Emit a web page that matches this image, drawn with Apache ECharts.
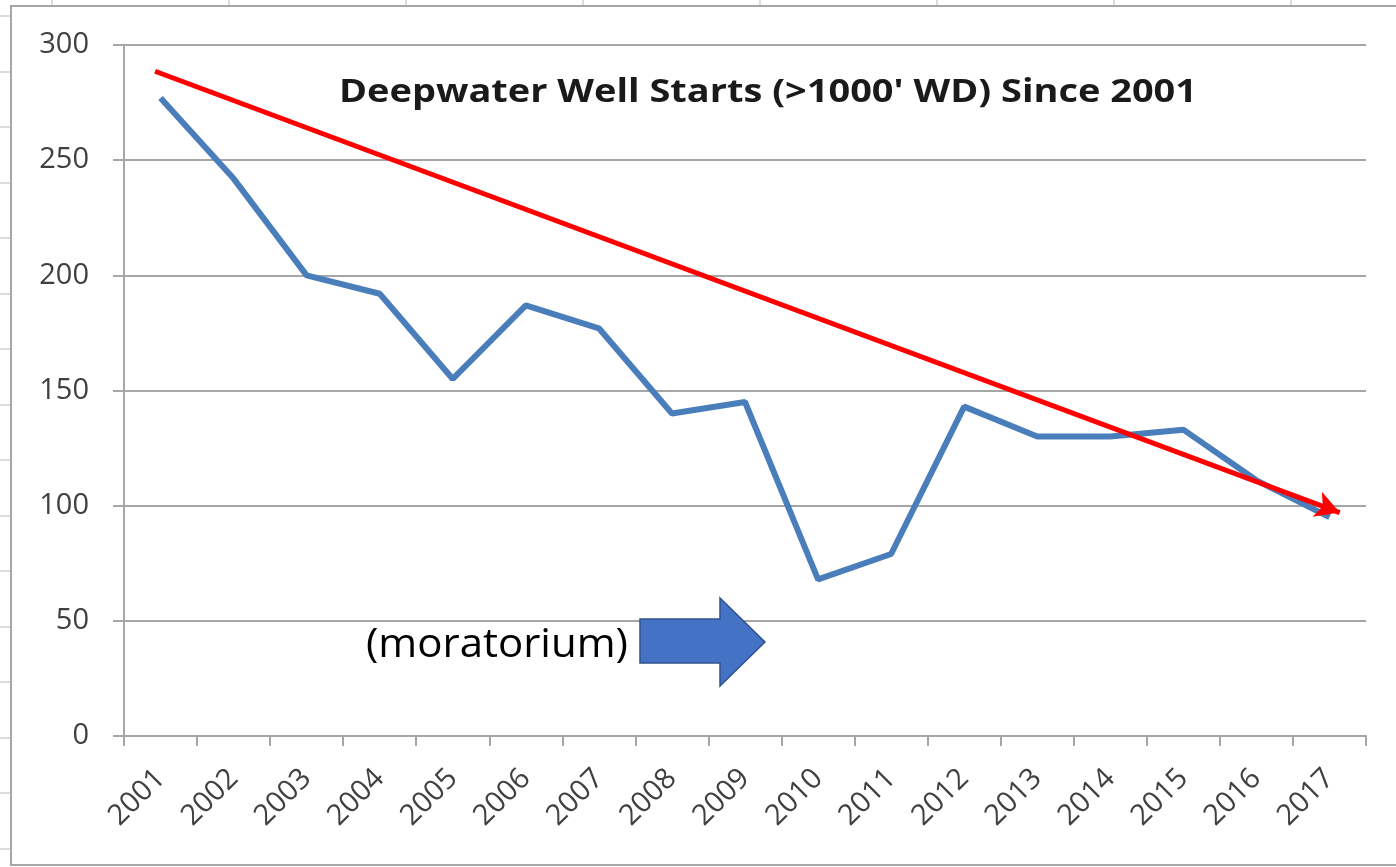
<!DOCTYPE html>
<html>
<head>
<meta charset="utf-8">
<script src="https://cdn.jsdelivr.net/npm/echarts@6/dist/echarts.min.js"></script>
<style>
html,body{margin:0;padding:0;background:#fff;}
#chart{width:1396px;height:867px;}
</style>
</head>
<body>
<div id="chart"></div>
<script>
const years = ['2001','2002','2003','2004','2005','2006','2007','2008','2009','2010','2011','2012','2013','2014','2015','2016','2017'];
const wellStarts = [277, 242, 200, 192, 155, 187, 177, 140, 145, 68, 79, 143, 130, 130, 133, 111, 95];
const yTicks = [0, 50, 100, 150, 200, 250, 300];
// trend arrow endpoints in data space (x as category index, y as well starts)
const trendX = [-0.075, 16.14];
const trendY = [288.6, 97];
const titleText = "Deepwater Well Starts (>1000' WD) Since 2001";
const noteText = '(moratorium)';

const chart = echarts.init(document.getElementById('chart'), null, {renderer: 'canvas'});

// spreadsheet background lines
const bgGraphics = [];
const colXs = [52, 229, 406, 583, 760, 937, 1114, 1291];
colXs.forEach(x => bgGraphics.push({type:'line', shape:{x1:x, y1:0, x2:x, y2:6}, style:{stroke:'#d0d0d0', lineWidth:1.5}, silent:true, z:-10}));
for (let y = 16; y < 867; y += 55.5) {
  bgGraphics.push({type:'line', shape:{x1:0, y1:Math.round(y), x2:10, y2:Math.round(y)}, style:{stroke:'#d0d0d0', lineWidth:1.5}, silent:true, z:-10});
}
bgGraphics.push({type:'rect', shape:{x:11, y:6, width:1400, height:859}, style:{fill:'#ffffff', stroke:'#a6a6a6', lineWidth:2}, silent:true, z:-9});

const option = {
  backgroundColor: '#ffffff',
  animation: false,
  textStyle: {fontFamily: 'Open Sans'},
  grid: {left: 124, right: 30, top: 45, bottom: 131},
  xAxis: [{
    type: 'category',
    data: years,
    boundaryGap: true,
    axisLine: {lineStyle: {color: '#a6a6a6', width: 2}},
    axisTick: {show: true, length: 10, lineStyle: {color: '#a6a6a6', width: 2}},
    axisLabel: {rotate: 45, fontSize: 29, color: '#404040', margin: 38, fontFamily: 'Open Sans'},
    splitLine: {show: false}
  }, {
    type: 'value',
    min: -0.5, max: 16.5,
    show: false
  }],
  yAxis: {
    type: 'value',
    min: 0, max: 300, interval: 50,
    axisLine: {show: true, onZero: false, lineStyle: {color: '#a6a6a6', width: 2}},
    axisTick: {show: true, length: 11, lineStyle: {color: '#a6a6a6', width: 2}},
    axisLabel: {fontSize: 29, color: '#404040', margin: 35, fontFamily: 'Open Sans'},
    splitLine: {show: true, lineStyle: {color: '#a6a6a6', width: 2}}
  },
  series: [{
    name: 'Well starts',
    type: 'line',
    data: wellStarts,
    symbol: 'none',
    lineStyle: {color: '#4a7ebb', width: 6},
    z: 3
  }, {
    name: 'Trend',
    type: 'line',
    xAxisIndex: 1,
    data: [[trendX[0], trendY[0]], [trendX[1], trendY[1]]],
    symbol: 'none',
    lineStyle: {opacity: 0},
    markLine: {
      silent: true,
      symbol: ['none', 'arrow'],
      symbolSize: [20, 24],
      label: {show: false},
      lineStyle: {color: '#ff0000', width: 5, type: 'solid'},
      data: [[{coord: [trendX[0], trendY[0]]}, {coord: [trendX[1], trendY[1]]}]]
    },
    z: 4
  }],
  graphic: bgGraphics.concat([
    {
      type: 'text',
      x: 768, y: 93, scaleX: 1.15,
      style: {text: titleText, fontFamily: 'Open Sans', fontWeight: 'bold', fontSize: 33, fill: '#1a1a1a', align: 'center', verticalAlign: 'middle'},
      z: 10
    },
    {
      type: 'polygon',
      shape: {points: [[640, 619], [720, 619], [720, 598], [765, 642], [720, 686], [720, 663], [640, 663]]},
      style: {fill: '#4472c4', stroke: '#2f528f', lineWidth: 1.5},
      z: 10
    },
    {
      type: 'text',
      x: 628, y: 646, scaleX: 1.05,
      style: {text: noteText, fontFamily: 'Open Sans', fontSize: 40, fill: '#000000', align: 'right', verticalAlign: 'middle'},
      z: 10
    }
  ])
};
chart.setOption(option);
</script>
</body>
</html>
